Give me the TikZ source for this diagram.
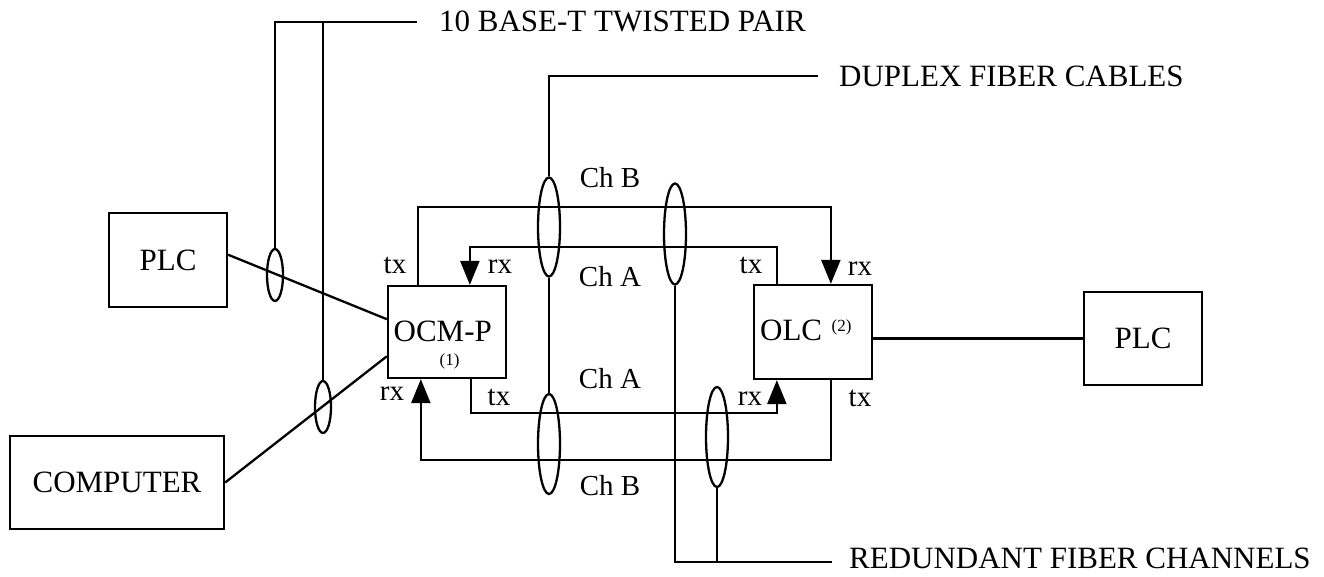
\documentclass[tikz,border=0pt]{standalone}
\usepackage{fontspec}
\setmainfont{Liberation Serif}
\usetikzlibrary{arrows.meta,shapes.geometric}
\begin{document}
\begin{tikzpicture}[x=1pt,y=-1pt,
  line width=2.3pt, line join=miter,
  box/.style={draw,line width=2.3pt,rectangle,inner sep=0pt,font=\fontsize{31}{36}\selectfont},
  oval/.style={draw,line width=2.3pt,ellipse,inner sep=0pt,minimum width=22pt,minimum height=100pt},
  tpoval/.style={draw,line width=2.3pt,ellipse,inner sep=0pt,minimum width=16pt,minimum height=52pt},
  big/.style={inner sep=0pt,anchor=base west,font=\fontsize{31}{36}\selectfont},
  lbl/.style={inner sep=0pt,anchor=base,font=\fontsize{29}{34}\selectfont},
  tiny/.style={inner sep=0pt,anchor=base,font=\fontsize{17}{20}\selectfont},
  arr/.style={-{Triangle[length=24pt,width=19pt]}}]
\useasboundingbox (0,0) rectangle (1324,577);

% boxes
\node[box,minimum width=118pt,minimum height=94pt] (plcL) at (168,260) {PLC};
\node[box,minimum width=214pt,minimum height=93pt] (comp) at (117,482.5) {COMPUTER};
\node[box,minimum width=118pt,minimum height=92pt] (ocm) at (447,332) {};
\node[box,minimum width=118pt,minimum height=94pt] (olc) at (813,332) {};
\node[box,minimum width=118pt,minimum height=93pt] (plcR) at (1143,338.5) {PLC};

% box texts
\node[big] (ocmt) at (392.5,341) {OCM-P};
\node[tiny] (ocmn) at (449.5,365) {(1)};
\node[big] (olct) at (759,340) {OLC};
\node[tiny] (olcn) at (841.5,331.5) {(2)};

% twisted pair
\coordinate (tw) at (417,22);
\node[tpoval] (t1) at (275,275) {};
\node[tpoval] (t2) at (323,407) {};
\draw (t1.north) |- (tw);
\draw (t2.north) -- (t2.north |- tw);
\node[big] (twl) at (438,32) {10 BASE-T TWISTED PAIR};

% connections to OCM-P / PLC
\draw (plcL.5) -- (ocm.168);
\draw (comp.east) -- (ocm.202);
\draw (plcR.west) -- (plcR.west -| olc.east);

% fiber channels
\draw[arr] ([xshift=31pt]ocm.north west) -- ++(0,-78) -| ([xshift=78pt]olc.north west);
\draw[arr] ([xshift=24pt]olc.north west) -- ++(0,-37) -| ([xshift=83pt]ocm.north west);
\draw[arr] ([xshift=84pt]ocm.south west) -- ++(0,34) -| ([xshift=24pt]olc.south west);
\draw[arr] ([xshift=78pt]olc.south west) -- ++(0,80) -| ([xshift=34pt]ocm.south west);

% port labels
\node[lbl] (l1) at (395,273) {tx};
\node[lbl] (l2) at (500,273) {rx};
\node[lbl] (l3) at (751,273) {tx};
\node[lbl] (l4) at (860,275) {rx};
\node[lbl] (l5) at (392,400) {rx};
\node[lbl] (l6) at (499,405) {tx};
\node[lbl] (l7) at (750,405) {rx};
\node[lbl] (l8) at (860,406) {tx};
\node[lbl] (c1) at (610,188) {Ch B};
\node[lbl] (c2) at (610,286) {Ch A};
\node[lbl] (c3) at (610,388) {Ch A};
\node[lbl] (c4) at (610,495) {Ch B};

% fiber bundles
\coordinate (dup) at (818,76);
\coordinate (red) at (832,562);
\node[oval,minimum height=99pt] (e1) at (549,227) {};
\node[oval,minimum height=101pt] (e2) at (675,234) {};
\node[oval] (e3) at (549,444) {};
\node[oval] (e4) at (717,437) {};
\draw (e1.north) |- (dup);
\draw (e1.south) -- (e3.north);
\draw (e2.south) |- (red);
\draw (e4.south) -- (e4.south |- red);
\node[big] (dupl) at (838,87) {DUPLEX FIBER CABLES};
\node[big] (redl) at (848,568) {REDUNDANT FIBER CHANNELS};
\end{tikzpicture}
\end{document}
